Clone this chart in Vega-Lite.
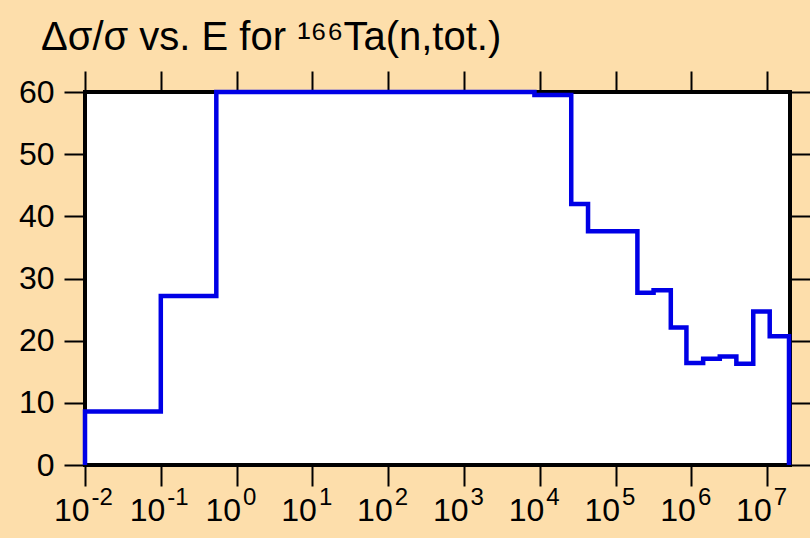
{
  "$schema": "https://vega.github.io/schema/vega-lite/v6.json",
  "width": 705,
  "height": 373,
  "autosize": {"type": "none"},
  "padding": {"left": 85, "top": 92, "right": 20, "bottom": 73},
  "background": "#fddeab",
  "title": {
    "text": "Δσ/σ vs. E for ¹⁶⁶Ta(n,tot.)",
    "anchor": "start",
    "frame": "group",
    "dx": -44,
    "dy": 5,
    "offset": -15,
    "baseline": "alphabetic",
    "font": "Liberation Sans",
    "fontSize": 40,
    "fontWeight": "normal",
    "color": "black"
  },
  "config": {
    "view": {"fill": "white", "stroke": "black", "strokeWidth": 4},
    "axis": {
      "domain": false,
      "grid": false,
      "tickColor": "black",
      "tickWidth": 2,
      "tickSize": 21,
      "labelColor": "black",
      "labelFont": "Liberation Sans",
      "labelFontSize": 32,
      "labelOverlap": false,
      "labelFlush": false,
      "labelBound": false,
      "title": null
    }
  },
  "data": {
    "values": [
      {"i": 0, "E": 0.01, "s": 0},
      {"i": 1, "E": 0.01, "s": 8.6},
      {"i": 2, "E": 0.1, "s": 27.2},
      {"i": 3, "E": 0.54, "s": 60},
      {"i": 4, "E": 8500, "s": 59.5},
      {"i": 5, "E": 26000, "s": 42.0},
      {"i": 6, "E": 43300, "s": 37.6},
      {"i": 7, "E": 194000, "s": 27.7},
      {"i": 8, "E": 317000, "s": 28.1},
      {"i": 9, "E": 535000, "s": 22.1},
      {"i": 10, "E": 860000, "s": 16.4},
      {"i": 11, "E": 1430000, "s": 17.1},
      {"i": 12, "E": 2370000, "s": 17.45},
      {"i": 13, "E": 3920000, "s": 16.3},
      {"i": 14, "E": 6550000, "s": 24.7},
      {"i": 15, "E": 10800000, "s": 20.7},
      {"i": 16, "E": 19400000, "s": 0}
    ]
  },
  "layer": [
    {
      "mark": {"type": "line", "opacity": 0},
      "encoding": {
        "x": {
          "field": "E", "type": "quantitative",
          "scale": {"type": "log", "domain": [0.01, 20000000], "nice": false},
          "axis": {
            "orient": "top",
            "values": [0.01, 0.1, 1, 10, 100, 1000, 10000, 100000, 1000000, 10000000],
            "labels": false
          }
        },
        "y": {
          "field": "s", "type": "quantitative",
          "scale": {"domain": [0, 60], "nice": false},
          "axis": {
            "orient": "right",
            "values": [0, 10, 20, 30, 40, 50, 60],
            "labels": false
          }
        },
        "order": {"field": "i"}
      }
    },
    {
      "mark": {"type": "line", "opacity": 0},
      "encoding": {
        "x": {
          "field": "E", "type": "quantitative",
          "scale": {"type": "log", "domain": [0.01, 20000000], "nice": false},
          "axis": {
            "orient": "bottom",
            "values": [0.01, 0.1, 1, 10, 100, 1000, 10000, 100000, 1000000, 10000000],
            "ticks": false,
            "labelExpr": "'' + round(log(datum.value) / LN10)",
            "labelAlign": "left",
            "labelOffset": 6,
            "labelPadding": 20,
            "labelFontSize": 24
          }
        },
        "y": {
          "field": "s", "type": "quantitative",
          "scale": {"domain": [0, 60], "nice": false},
          "axis": null
        },
        "order": {"field": "i"}
      }
    },
    {
      "mark": {"type": "line", "interpolate": "step-after", "color": "#0000e6", "strokeWidth": 4.5},
      "encoding": {
        "x": {
          "field": "E", "type": "quantitative",
          "scale": {"type": "log", "domain": [0.01, 20000000], "nice": false},
          "axis": {
            "orient": "bottom",
            "values": [0.01, 0.1, 1, 10, 100, 1000, 10000, 100000, 1000000, 10000000],
            "labelExpr": "'10'",
            "labelAlign": "right",
            "labelOffset": 4,
            "labelPadding": 9
          }
        },
        "y": {
          "field": "s", "type": "quantitative",
          "scale": {"domain": [0, 60], "nice": false},
          "axis": {
            "orient": "left",
            "values": [0, 10, 20, 30, 40, 50, 60],
            "labelPadding": 10
          }
        },
        "order": {"field": "i"}
      }
    }
  ],
  "resolve": {"axis": {"x": "independent", "y": "independent"}}
}
